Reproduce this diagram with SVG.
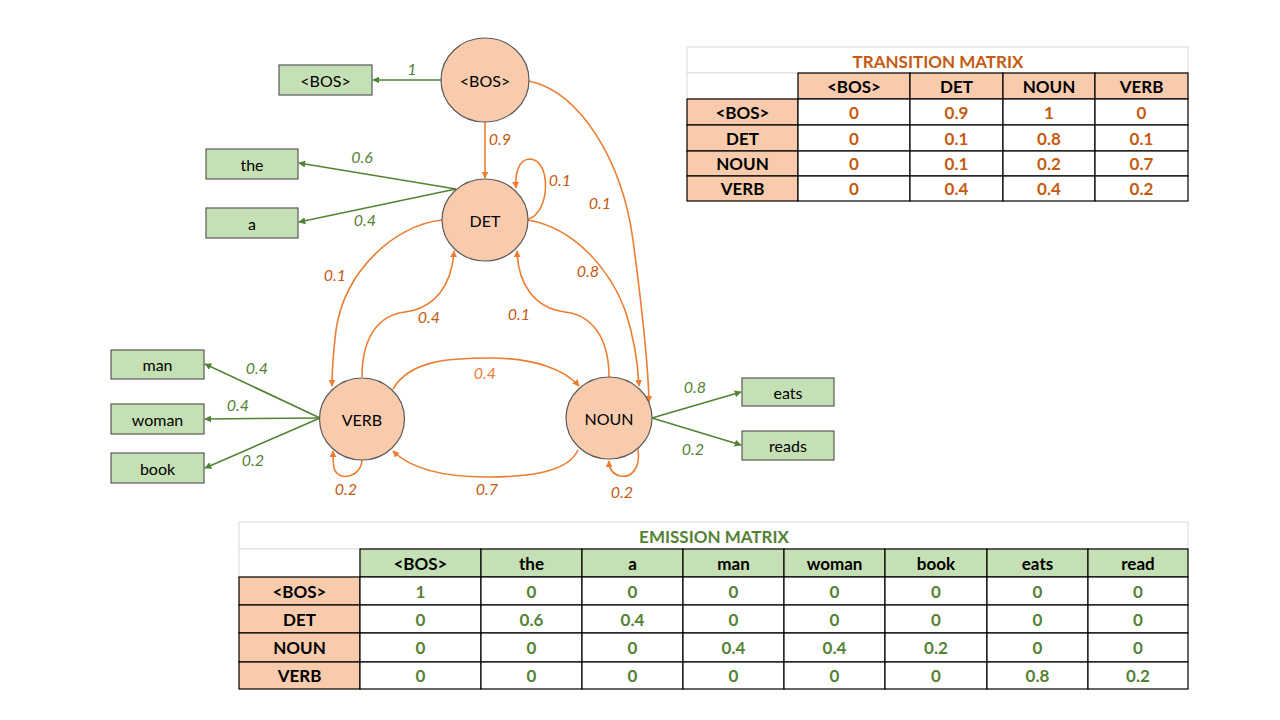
<svg xmlns="http://www.w3.org/2000/svg" width="1280" height="720" viewBox="0 0 1280 720">
<defs>
<style>
.node{fill:#F8CBAD;stroke:#595959;stroke-width:1.2}
.box{fill:#C5E0B4;stroke:#595959;stroke-width:1.2}
.nt{font-family:Lato,"Liberation Sans",sans-serif;font-size:16px;fill:#000;text-anchor:middle;dominant-baseline:central}
.og{fill:none;stroke:#ED7D31;stroke-width:1.6}
.gr{fill:none;stroke:#548235;stroke-width:1.6}
.lo{font-family:Lato,"Liberation Sans",sans-serif;font-size:16px;font-style:italic;fill:#C55A11;text-anchor:middle}
.lg{font-family:Lato,"Liberation Sans",sans-serif;font-size:16px;font-style:italic;fill:#548235;text-anchor:middle}
.tt{font-family:Lato,"Liberation Sans",sans-serif;font-size:17px;font-weight:bold;text-anchor:middle;dominant-baseline:central}
.cell{stroke:#000;stroke-width:1.2}
.title{fill:#fff;stroke:#D9D9D9;stroke-width:1}
</style>
<marker id="ao" viewBox="0 0 10 10" refX="9" refY="5" markerWidth="7" markerHeight="7" markerUnits="userSpaceOnUse" orient="auto"><path d="M0,0 L10,5 L0,10 z" fill="#ED7D31"/></marker>
<marker id="ag" viewBox="0 0 10 10" refX="9" refY="5" markerWidth="7" markerHeight="7" markerUnits="userSpaceOnUse" orient="auto"><path d="M0,0 L10,5 L0,10 z" fill="#548235"/></marker>
</defs>
<rect width="1280" height="720" fill="#fff"/>

<g id="connectors">
<path class="gr" marker-end="url(#ag)" d="M441,80 L373,80"/>
<path class="gr" marker-end="url(#ag)" d="M456,189 L299,163"/>
<path class="gr" marker-end="url(#ag)" d="M456,189 L299,222"/>
<path class="gr" marker-end="url(#ag)" d="M320,418 L205,364"/>
<path class="gr" marker-end="url(#ag)" d="M320,418 L205,419"/>
<path class="gr" marker-end="url(#ag)" d="M320,418 L205,468"/>
<path class="gr" marker-end="url(#ag)" d="M652,418 L741,392"/>
<path class="gr" marker-end="url(#ag)" d="M652,418 L741,445"/>

<path class="og" marker-end="url(#ao)" d="M485,122 L485,178"/>
<path class="og" marker-end="url(#ao)" d="M528,219 C550,214 552,160 530,159 C518,159 515,175 516,188"/>
<path class="og" marker-end="url(#ao)" d="M529,81 C580,92 622,160 633,240 C641,300 648,360 649,402"/>
<path class="og" marker-end="url(#ao)" d="M528,220 C575,228 610,270 625,310 C635,340 638,365 639,386"/>
<path class="og" marker-end="url(#ao)" d="M609,377 C609,335 590,315 565,312 C535,308 518,285 517,251"/>
<path class="og" marker-end="url(#ao)" d="M362,377 C362,335 380,315 405,312 C435,308 452,285 454,251"/>
<path class="og" marker-end="url(#ao)" d="M442,220 C395,225 345,270 336,330 C333,355 332,370 332,386"/>
<path class="og" marker-end="url(#ao)" d="M393,389 C410,360 450,358 490,358 C535,358 565,370 579,386"/>
<path class="og" marker-end="url(#ao)" d="M578,450 C568,472 530,477 487,477 C440,477 410,468 393,451"/>
<path class="og" marker-end="url(#ao)" d="M362,460 C361,478 338,482 334,468 C333,462 333,456 333,451"/>
<path class="og" marker-end="url(#ao)" d="M638,449 C641,470 630,478 620,476 C612,474 609,468 609,461"/>

<text class="lg" x="412" y="75">1</text>
<text class="lg" x="362" y="163">0.6</text>
<text class="lg" x="365" y="226">0.4</text>
<text class="lg" x="257" y="374">0.4</text>
<text class="lg" x="238" y="411">0.4</text>
<text class="lg" x="253" y="466">0.2</text>
<text class="lg" x="695" y="393">0.8</text>
<text class="lg" x="693" y="455">0.2</text>

<text class="lo" x="500" y="145">0.9</text>
<text class="lo" x="560" y="186">0.1</text>
<text class="lo" x="600" y="209">0.1</text>
<text class="lo" x="335" y="281">0.1</text>
<text class="lo" x="588" y="277">0.8</text>
<text class="lo" x="429" y="323">0.4</text>
<text class="lo" x="519" y="320">0.1</text>
<text class="lo" x="485" y="379" style="fill:#ED7D31">0.4</text>
<text class="lo" x="487" y="495">0.7</text>
<text class="lo" x="346" y="495">0.2</text>
<text class="lo" x="622" y="498">0.2</text>
</g>

<g id="n-bos"><ellipse class="node" cx="485" cy="80" rx="44" ry="42"/><text class="nt" x="485" y="80">&lt;BOS&gt;</text></g>
<g id="n-det"><ellipse class="node" cx="485" cy="220" rx="43" ry="41"/><text class="nt" x="485" y="220">DET</text></g>
<g id="n-verb"><ellipse class="node" cx="362" cy="419" rx="42.5" ry="41"/><text class="nt" x="362" y="419">VERB</text></g>
<g id="n-noun"><ellipse class="node" cx="609" cy="418" rx="43" ry="41"/><text class="nt" x="609" y="418">NOUN</text></g>

<g id="b-bos"><rect class="box" x="279" y="65" width="93" height="30"/><text class="nt" x="325.5" y="80">&lt;BOS&gt;</text></g>
<g id="b-the"><rect class="box" x="206" y="149" width="92" height="30"/><text class="nt" x="252" y="164">the</text></g>
<g id="b-a"><rect class="box" x="206" y="208" width="92" height="30"/><text class="nt" x="252" y="223">a</text></g>
<g id="b-man"><rect class="box" x="111" y="350" width="93" height="29"/><text class="nt" x="157.5" y="364.5">man</text></g>
<g id="b-woman"><rect class="box" x="111" y="404" width="93" height="30"/><text class="nt" x="157.5" y="419">woman</text></g>
<g id="b-book"><rect class="box" x="111" y="453" width="93" height="30"/><text class="nt" x="157.5" y="468">book</text></g>
<g id="b-eats"><rect class="box" x="742" y="378" width="92" height="28"/><text class="nt" x="788" y="392">eats</text></g>
<g id="b-reads"><rect class="box" x="742" y="431" width="92" height="29"/><text class="nt" x="788" y="445.5">reads</text></g>

<g id="transition-matrix">
<rect class="title" x="687" y="47" width="501" height="26"/>
<rect x="687" y="73" width="111" height="26" fill="#fff" stroke="#D9D9D9"/>
<text class="tt" x="938" y="61" fill="#C55A11">TRANSITION MATRIX</text>
<g fill="#F8CBAD" class="cell">
<rect x="798" y="73" width="112" height="26"/><rect x="910" y="73" width="93" height="26"/><rect x="1003" y="73" width="92" height="26"/><rect x="1095" y="73" width="93" height="26"/>
<rect x="687" y="99" width="111" height="26"/><rect x="687" y="125" width="111" height="26"/><rect x="687" y="151" width="111" height="25"/><rect x="687" y="176" width="111" height="25"/>
</g>
<g fill="#fff" class="cell">
<rect x="798" y="99" width="112" height="26"/><rect x="910" y="99" width="93" height="26"/><rect x="1003" y="99" width="92" height="26"/><rect x="1095" y="99" width="93" height="26"/>
<rect x="798" y="125" width="112" height="26"/><rect x="910" y="125" width="93" height="26"/><rect x="1003" y="125" width="92" height="26"/><rect x="1095" y="125" width="93" height="26"/>
<rect x="798" y="151" width="112" height="25"/><rect x="910" y="151" width="93" height="25"/><rect x="1003" y="151" width="92" height="25"/><rect x="1095" y="151" width="93" height="25"/>
<rect x="798" y="176" width="112" height="25"/><rect x="910" y="176" width="93" height="25"/><rect x="1003" y="176" width="92" height="25"/><rect x="1095" y="176" width="93" height="25"/>
</g>
<g fill="#000">
<text class="tt" x="854" y="86">&lt;BOS&gt;</text><text class="tt" x="956.5" y="86">DET</text><text class="tt" x="1049" y="86">NOUN</text><text class="tt" x="1141.5" y="86">VERB</text>
<text class="tt" x="742.5" y="112">&lt;BOS&gt;</text><text class="tt" x="742.5" y="138">DET</text><text class="tt" x="742.5" y="163.5">NOUN</text><text class="tt" x="742.5" y="188.5">VERB</text>
</g>
<g fill="#C55A11">
<text class="tt" x="854" y="112">0</text><text class="tt" x="956.5" y="112">0.9</text><text class="tt" x="1049" y="112">1</text><text class="tt" x="1141.5" y="112">0</text>
<text class="tt" x="854" y="138">0</text><text class="tt" x="956.5" y="138">0.1</text><text class="tt" x="1049" y="138">0.8</text><text class="tt" x="1141.5" y="138">0.1</text>
<text class="tt" x="854" y="163.5">0</text><text class="tt" x="956.5" y="163.5">0.1</text><text class="tt" x="1049" y="163.5">0.2</text><text class="tt" x="1141.5" y="163.5">0.7</text>
<text class="tt" x="854" y="188.5">0</text><text class="tt" x="956.5" y="188.5">0.4</text><text class="tt" x="1049" y="188.5">0.4</text><text class="tt" x="1141.5" y="188.5">0.2</text>
</g>
</g>

<g id="emission-matrix">
<rect class="title" x="239" y="522" width="949" height="27"/>
<rect x="239" y="549" width="121" height="28" fill="#fff" stroke="#D9D9D9"/>
<text class="tt" x="714" y="536" fill="#548235">EMISSION MATRIX</text>
<g fill="#C5E0B4" class="cell">
<rect x="360" y="549" width="121" height="28"/><rect x="481" y="549" width="101" height="28"/><rect x="582" y="549" width="101" height="28"/><rect x="683" y="549" width="101" height="28"/><rect x="784" y="549" width="101" height="28"/><rect x="885" y="549" width="102" height="28"/><rect x="987" y="549" width="101" height="28"/><rect x="1088" y="549" width="100" height="28"/>
</g>
<g fill="#F8CBAD" class="cell">
<rect x="239" y="577" width="121" height="28"/><rect x="239" y="605" width="121" height="28"/><rect x="239" y="633" width="121" height="29"/><rect x="239" y="662" width="121" height="27"/>
</g>
<g fill="#fff" class="cell">
<rect x="360" y="577" width="121" height="28"/><rect x="481" y="577" width="101" height="28"/><rect x="582" y="577" width="101" height="28"/><rect x="683" y="577" width="101" height="28"/><rect x="784" y="577" width="101" height="28"/><rect x="885" y="577" width="102" height="28"/><rect x="987" y="577" width="101" height="28"/><rect x="1088" y="577" width="100" height="28"/>
<rect x="360" y="605" width="121" height="28"/><rect x="481" y="605" width="101" height="28"/><rect x="582" y="605" width="101" height="28"/><rect x="683" y="605" width="101" height="28"/><rect x="784" y="605" width="101" height="28"/><rect x="885" y="605" width="102" height="28"/><rect x="987" y="605" width="101" height="28"/><rect x="1088" y="605" width="100" height="28"/>
<rect x="360" y="633" width="121" height="29"/><rect x="481" y="633" width="101" height="29"/><rect x="582" y="633" width="101" height="29"/><rect x="683" y="633" width="101" height="29"/><rect x="784" y="633" width="101" height="29"/><rect x="885" y="633" width="102" height="29"/><rect x="987" y="633" width="101" height="29"/><rect x="1088" y="633" width="100" height="29"/>
<rect x="360" y="662" width="121" height="27"/><rect x="481" y="662" width="101" height="27"/><rect x="582" y="662" width="101" height="27"/><rect x="683" y="662" width="101" height="27"/><rect x="784" y="662" width="101" height="27"/><rect x="885" y="662" width="102" height="27"/><rect x="987" y="662" width="101" height="27"/><rect x="1088" y="662" width="100" height="27"/>
</g>
<g fill="#000">
<text class="tt" x="420.5" y="563">&lt;BOS&gt;</text><text class="tt" x="531.5" y="563">the</text><text class="tt" x="632.5" y="563">a</text><text class="tt" x="733.5" y="563">man</text><text class="tt" x="834.5" y="563">woman</text><text class="tt" x="936" y="563">book</text><text class="tt" x="1037.5" y="563">eats</text><text class="tt" x="1138" y="563">read</text>
<text class="tt" x="299.5" y="591">&lt;BOS&gt;</text><text class="tt" x="299.5" y="619">DET</text><text class="tt" x="299.5" y="647.5">NOUN</text><text class="tt" x="299.5" y="675.5">VERB</text>
</g>
<g fill="#548235">
<text class="tt" x="420.5" y="591">1</text><text class="tt" x="531.5" y="591">0</text><text class="tt" x="632.5" y="591">0</text><text class="tt" x="733.5" y="591">0</text><text class="tt" x="834.5" y="591">0</text><text class="tt" x="936" y="591">0</text><text class="tt" x="1037.5" y="591">0</text><text class="tt" x="1138" y="591">0</text>
<text class="tt" x="420.5" y="619">0</text><text class="tt" x="531.5" y="619">0.6</text><text class="tt" x="632.5" y="619">0.4</text><text class="tt" x="733.5" y="619">0</text><text class="tt" x="834.5" y="619">0</text><text class="tt" x="936" y="619">0</text><text class="tt" x="1037.5" y="619">0</text><text class="tt" x="1138" y="619">0</text>
<text class="tt" x="420.5" y="647.5">0</text><text class="tt" x="531.5" y="647.5">0</text><text class="tt" x="632.5" y="647.5">0</text><text class="tt" x="733.5" y="647.5">0.4</text><text class="tt" x="834.5" y="647.5">0.4</text><text class="tt" x="936" y="647.5">0.2</text><text class="tt" x="1037.5" y="647.5">0</text><text class="tt" x="1138" y="647.5">0</text>
<text class="tt" x="420.5" y="675.5">0</text><text class="tt" x="531.5" y="675.5">0</text><text class="tt" x="632.5" y="675.5">0</text><text class="tt" x="733.5" y="675.5">0</text><text class="tt" x="834.5" y="675.5">0</text><text class="tt" x="936" y="675.5">0</text><text class="tt" x="1037.5" y="675.5">0.8</text><text class="tt" x="1138" y="675.5">0.2</text>
</g>
</g>
</svg>
